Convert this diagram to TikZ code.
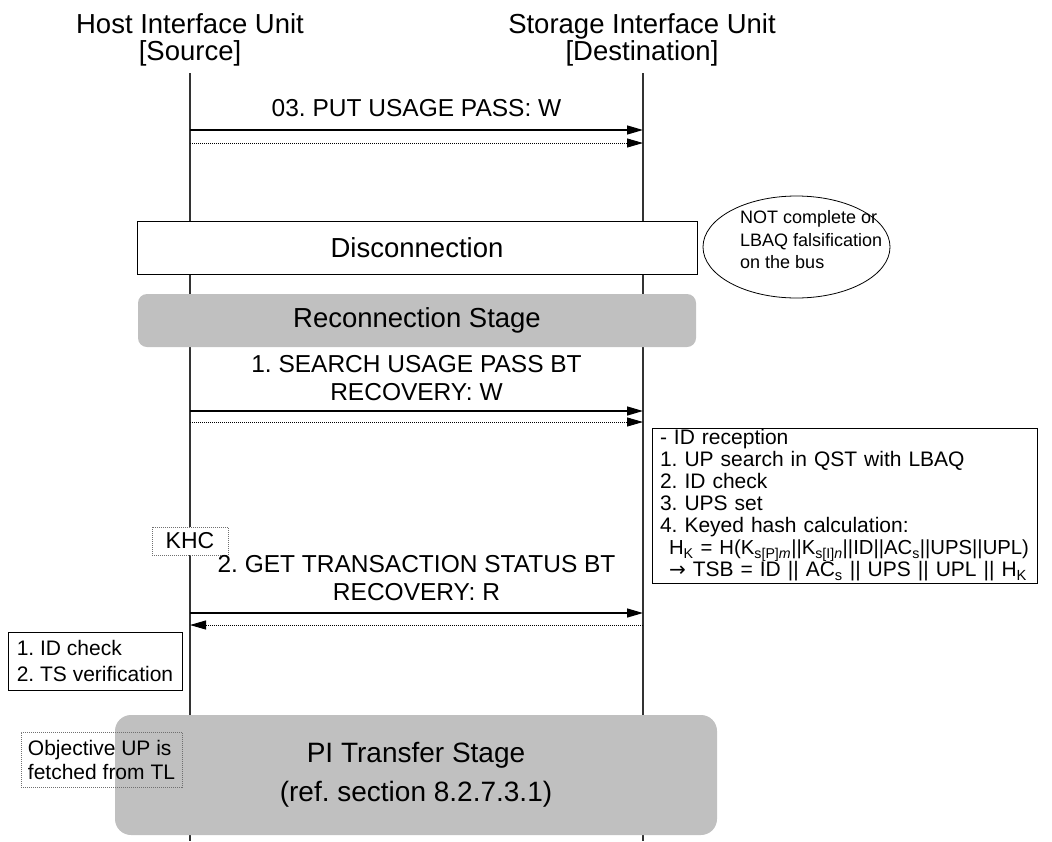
\documentclass[tikz,border=0pt]{standalone}
\usepackage{fontspec}
\setmainfont{Liberation Sans}
\newfontfamily\symfont{DejaVu Sans}
\usetikzlibrary{arrows.meta,shapes.geometric}
\definecolor{stagegray}{HTML}{C0C0C0}
\definecolor{dotgray}{HTML}{707070}
\begin{document}
\frenchspacing
\begin{tikzpicture}[x=1pt,y=-1pt,
  hdr/.style={font=\fontsize{27.5}{27}\selectfont, align=center, inner sep=0pt},
  msg/.style={font=\fontsize{24.5}{28}\selectfont, align=center, inner sep=0pt},
  stagetxt/.style={font=\fontsize{27.5}{30}\selectfont},
  lifeline/.style={line width=1.2pt, black!80},
  callarrow/.style={line width=1.3pt, -{Triangle[length=16pt,width=9pt]}},
  retarrow/.style={line width=0.9pt, dash pattern=on 1pt off 1pt, -{Triangle[length=16pt,width=9pt]}},
  whitebox/.style={draw, line width=1pt, fill=white, inner sep=0pt},
  graystage/.style={fill=stagegray, rounded corners=9pt, inner sep=0pt},
  notebox/.style={draw=dotgray, line width=0.8pt, dash pattern=on 1pt off 1pt, inner sep=0pt, align=left, font=\fontsize{21}{24}\selectfont},
  textbox/.style={draw, line width=1pt, fill=white, inner sep=0pt, align=left, font=\fontsize{21}{22}\selectfont}
]
\useasboundingbox (0,0) rectangle (1052,841);

% headers
\node[hdr] (hostU) at (190,40) {Host Interface Unit\\{[Source]}};
\node[hdr] (storU) at (642,40) {Storage Interface Unit\\{[Destination]}};

% lifelines
\coordinate (Ltop) at (190,73);
\coordinate (Lbot) at (190,841);
\coordinate (Rtop) at (643,73);
\coordinate (Rbot) at (643,841);
\draw[lifeline] (Ltop) -- (Lbot);
\draw[lifeline] (Rtop) -- (Rbot);

% message 03
\node[msg] (m1) at (416.5,108) {03. PUT USAGE PASS: W};
\coordinate (m1a) at (190,130); \coordinate (m1b) at (643,130);
\coordinate (m1c) at (190,143); \coordinate (m1d) at (643,143);
\draw[callarrow] (m1a) -- (m1b);
\draw[retarrow] (m1c) -- (m1d);

% disconnection
\node[whitebox, minimum width=560pt, minimum height=53pt, stagetxt] (disc) at (417,247.5) {Disconnection};
\node[draw, ellipse, line width=0.8pt, minimum width=187pt, minimum height=102pt] (ell) at (796.5,247) {};
\node[anchor=west, align=left, inner sep=0pt, font=\fontsize{18}{22.5}\selectfont] (elltxt) at (740,240) {NOT complete or\\LBAQ falsification\\on the bus};

% reconnection stage
\node[graystage, minimum width=558pt, minimum height=53pt, stagetxt] (recon) at (417,320.5) {Reconnection Stage};

% message 1
\node[msg] (m2) at (416.5,378) {1. SEARCH USAGE PASS BT\\RECOVERY: W};
\coordinate (m2a) at (190,411); \coordinate (m2b) at (643,411);
\coordinate (m2c) at (190,422); \coordinate (m2d) at (643,422);
\draw[callarrow] (m2a) -- (m2b);
\draw[retarrow] (m2c) -- (m2d);

% destination processing box
\node[textbox, text width=369pt, inner xsep=8pt, minimum height=155pt] (proc) at (844.5,505.5) {%
- ID reception\\
1. UP search in QST with LBAQ\\
2. ID check\\
3. UPS set\\
4. Keyed hash calculation:\\
\mbox{\fontsize{20.3}{22}\selectfont\hspace*{9pt}H\textsubscript{K} = H(K\textsubscript{s[P]\textit{m}}||K\textsubscript{s[I]\textit{n}}||ID||AC\textsubscript{s}||UPS||UPL)}\\
\mbox{\hspace*{9pt}{\symfont\fontsize{20}{22}\selectfont →} TSB = ID || AC\textsubscript{s} || UPS || UPL || H\textsubscript{K}}};

% KHC
\node[notebox, fill=white, minimum width=76pt, minimum height=28pt, align=center, font=\fontsize{23}{24}\selectfont] (khc) at (190,541) {KHC};

% message 2
\node[msg] (m3) at (416.5,578) {2. GET TRANSACTION STATUS BT\\RECOVERY: R};
\coordinate (m3a) at (190,613); \coordinate (m3b) at (643,613);
\coordinate (m3c) at (643,625); \coordinate (m3d) at (190,625);
\draw[callarrow] (m3a) -- (m3b);
\draw[retarrow] (m3c) -- (m3d);

% source check box
\node[textbox, minimum width=174pt, minimum height=58pt, font=\fontsize{21}{26}\selectfont] (chk) at (95,661) {1. ID check\\2. TS verification};

% PI transfer stage
\node[graystage, rounded corners=16pt, minimum width=602pt, minimum height=120pt, align=center, font=\fontsize{28}{39}\selectfont] (pi) at (416,775) {PI Transfer Stage\\(ref. section 8.2.7.3.1)};

% objective note
\node[notebox, minimum width=161pt, minimum height=55pt] (obj) at (101.5,759.5) {Objective UP is\\fetched from TL};
\end{tikzpicture}
\end{document}
